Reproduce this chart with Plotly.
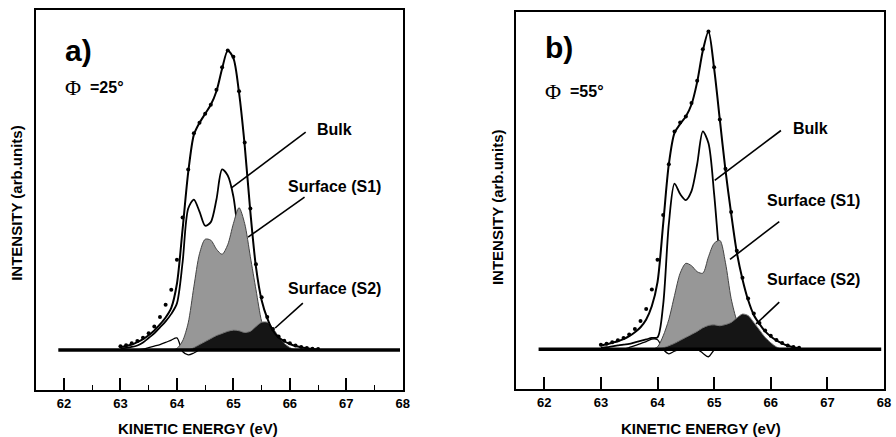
import plotly.graph_objects as go

# ---------------- data ----------------
energy = [63.0, 63.1, 63.2, 63.3, 63.4, 63.5, 63.6, 63.7, 63.8, 63.9,
          64.0, 64.1, 64.2, 64.3, 64.4, 64.5, 64.6, 64.7, 64.8, 64.9,
          65.0, 65.1, 65.2, 65.3, 65.4, 65.5, 65.6, 65.7, 65.8, 65.9,
          66.0, 66.1, 66.2, 66.3, 66.4, 66.5]

# panel a (phi = 25 deg)
a_data = [1.2, 1.6, 2.2, 3.0, 4.1, 5.6, 7.8, 11, 15, 20,
          30, 44, 60, 72, 75.5, 78.5, 81.5, 86.5, 94, 99.5,
          97.5, 86, 69, 47, 28.5, 17.5, 11, 7, 4.5, 3.1,
          2.2, 1.5, 1.0, 0.7, 0.45, 0.3]
a_fit = [1.0, 1.3, 1.8, 2.6, 3.6, 4.9, 6.5, 8.5, 10.8, 14,
         22, 40, 59, 71.5, 75.5, 78.5, 81.5, 86, 93.5, 99.5,
         97, 85.5, 68, 46, 27.5, 16.5, 10.5, 6.5, 4.2, 2.9,
         2.0, 1.3, 0.9, 0.6, 0.35, 0.2]
a_bulk = [0.5, 0.7, 1.0, 1.5, 2.5, 4, 5.5, 7.5, 9.5, 12,
          15.5, 29, 47, 50, 46, 41.3, 42.5, 50, 60, 58,
          51, 36, 22, 12, 6, 3, 1.5, 0.7, 0.3, 0,
          0, 0, 0, 0, 0, 0]
a_s1 = [0, 0, 0, 0, 0, 0, 0, 0, 0, 0,
        0.5, 3, 9, 21, 32, 36.8, 36.5, 33.5, 31.8, 35,
        42, 47.3, 42, 31, 20, 9.5, 4, 1.5, 0.5, 0,
        0, 0, 0, 0, 0, 0]
a_s2 = [0, 0, 0, 0, 0, 0, 0, 0, 0, 0,
        0, 0, 0, 0.8, 1.8, 2.8, 3.8, 4.8, 5.5, 6.2,
        6.6, 6.4, 5.8, 6.2, 7.8, 9.2, 9.2, 7.2, 4.5, 2.2,
        0.8, 0, 0, 0, 0, 0]
a_extra = [0, 0, 0, 0, 0.3, 0.8, 1.3, 1.8, 2.5, 3.3,
           4.0, -0.5, -1.6, -1.0, 0, 0, 0, 0, 0, 0,
           0, 0, 0, 0, 0, 0, 0, 0, 0, 0,
           0, 0, 0, 0, 0, 0]

# panel b (phi = 55 deg)
b_data = [1.5, 1.9, 2.4, 3.0, 3.8, 5.0, 6.8, 9.5, 13.5, 20,
          30, 45, 62, 73, 76, 78, 82.5, 90, 100.5, 106.5,
          94.5, 77, 60.5, 46, 33, 24, 17, 12, 8.8, 6.3,
          4.5, 3.1, 2.1, 1.3, 0.8, 0.5]
b_fit = [1.3, 1.7, 2.2, 2.7, 3.4, 4.4, 5.7, 7.4, 10, 14.5,
         22.5, 42, 62, 72.5, 75.5, 78, 82, 89.5, 100, 106.5,
         94, 77, 60, 45.5, 32.5, 23.5, 16.5, 11.5, 8.5, 6,
         4.3, 3, 2, 1.2, 0.7, 0.4]
b_bulk = [0.5, 0.7, 1.0, 1.3, 1.6, 1.8, 2.3, 2.8, 3.3, 3.8,
          4, 15, 42, 55.5, 52, 50, 53, 62, 73, 69,
          52, 30, 15, 7, 3.5, 1.8, 0.8, 0.3, 0, 0,
          0, 0, 0, 0, 0, 0]
b_s1 = [0, 0, 0, 0, 0, 0, 0, 0, 0, 0,
        0.8, 4.5, 10, 18, 25.5, 28.8, 28, 26, 25.5, 31,
        35.5, 36.5, 29, 17, 9.5, 4.5, 1.8, 0.6, 0, 0,
        0, 0, 0, 0, 0, 0]
b_s2 = [0, 0, 0, 0, 0, 0, 0, 0, 0, 0,
        0, 0.5, 1.2, 2, 3, 4, 5, 6, 7.2, 8,
        8.2, 7.9, 8.3, 9, 10.5, 11.8, 11.3, 9, 6.5, 4,
        2.2, 0.8, 0, 0, 0, 0]
b_extra = [0, 0, 0, 0, 0, 0.6, 1.2, 1.9, 2.6, 3.4,
           3.2, 0, -1.5, -0.6, 0, 0, 0, 0, -1.3, -2.5,
           -0.3, 0, 0, 0, 0, 0, 0, 0, 0, 0,
           0, 0, 0, 0, 0, 0]

baseline_x = [61.9, 67.95]
baseline_y = [0, 0]

x_ticks = [62, 63, 64, 65, 66, 67, 68]
x_minor = [62.5, 63.5, 64.5, 65.5, 66.5, 67.5]
x_range = [61.5, 68.0]
y_range = [-13.3, 113]

panels = [
    dict(name="a)", phi="=25°", data=a_data, fit=a_fit, bulk=a_bulk, s1=a_s1, s2=a_s2, extra=a_extra,
         label_y=99.7, phi_y=87.2,
         bulk_txt=(66.44, 73.4), s1_txt=(65.93, 54.5), s2_txt=(65.93, 20.3),
         bulk_ptr=(66.28, 72.4, 64.96, 53.8), s1_ptr=(66.26, 50.8, 65.26, 37.5),
         s2_ptr=(66.23, 15.6, 65.74, 7.3)),
    dict(name="b)", phi="=55°", data=b_data, fit=b_fit, bulk=b_bulk, s1=b_s1, s2=b_s2, extra=b_extra,
         label_y=101.0, phi_y=86.5,
         bulk_txt=(66.35, 74.1), s1_txt=(65.89, 50.0), s2_txt=(65.89, 23.4),
         bulk_ptr=(66.18, 73.3, 65.01, 56.6), s1_ptr=(66.15, 42.8, 65.28, 30.1),
         s2_ptr=(66.15, 15.8, 65.74, 8.5)),
]

FONT = "Liberation Sans"
fig = go.Figure()

for i, p in enumerate(panels):
    xa = "x" if i == 0 else "x2"
    ya = "y" if i == 0 else "y2"
    # bulk (white)
    fig.add_trace(go.Scatter(x=energy, y=p["bulk"], xaxis=xa, yaxis=ya, mode="lines",
                             line=dict(color="black", width=1.8, shape="spline", smoothing=0.8),
                             fill="tozeroy", fillcolor="white", hoverinfo="skip", showlegend=False))
    fig.add_trace(go.Scatter(x=energy, y=p["extra"], xaxis=xa, yaxis=ya, mode="lines",
                             line=dict(color="black", width=1.3, shape="spline", smoothing=0.8),
                             hoverinfo="skip", showlegend=False))
    # surface S1 (grey)
    fig.add_trace(go.Scatter(x=energy, y=p["s1"], xaxis=xa, yaxis=ya, mode="lines",
                             line=dict(color="#444444", width=1.0, shape="spline", smoothing=0.8),
                             fill="tozeroy", fillcolor="#979797", hoverinfo="skip", showlegend=False))
    # surface S2 (dark)
    fig.add_trace(go.Scatter(x=energy, y=p["s2"], xaxis=xa, yaxis=ya, mode="lines",
                             line=dict(color="#777777", width=1.0, shape="spline", smoothing=0.8),
                             fill="tozeroy", fillcolor="#151515", hoverinfo="skip", showlegend=False))
    # fit envelope
    fig.add_trace(go.Scatter(x=energy, y=p["fit"], xaxis=xa, yaxis=ya, mode="lines",
                             line=dict(color="black", width=2, shape="spline", smoothing=0.8),
                             hoverinfo="skip", showlegend=False))
    # data dots
    fig.add_trace(go.Scatter(x=energy, y=p["data"], xaxis=xa, yaxis=ya, mode="markers",
                             marker=dict(color="black", size=4), hoverinfo="skip", showlegend=False))
    # baseline
    fig.add_trace(go.Scatter(x=baseline_x, y=baseline_y, xaxis=xa, yaxis=ya, mode="lines",
                             line=dict(color="black", width=3.5), hoverinfo="skip", showlegend=False))

    # pointer lines
    for key in ("bulk_ptr", "s1_ptr", "s2_ptr"):
        x0, y0, x1, y1 = p[key]
        fig.add_shape(type="line", xref=xa, yref=ya, x0=x0, y0=y0, x1=x1, y1=y1,
                      line=dict(color="black", width=1.6))

    ann = [
        (p["bulk_txt"], "Bulk"),
        (p["s1_txt"], "Surface (S1)"),
        (p["s2_txt"], "Surface (S2)"),
    ]
    for (tx, ty), t in ann:
        fig.add_annotation(x=tx, y=ty, xref=xa, yref=ya, text=t, showarrow=False,
                           xanchor="left", yanchor="middle",
                           font=dict(family=FONT, size=16, color="black", weight="bold"))
    fig.add_annotation(x=61.98, y=p["label_y"], xref=xa, yref=ya, text=p["name"], showarrow=False,
                       xanchor="left", yanchor="middle",
                       font=dict(family=FONT, size=30, color="black", weight="bold"))
    fig.add_annotation(x=61.98, y=p["phi_y"], xref=xa, yref=ya, text="Φ", showarrow=False,
                       xanchor="left", yanchor="middle",
                       font=dict(family="Liberation Serif", size=22, color="black"))
    fig.add_annotation(x=62.42, y=p["phi_y"], xref=xa, yref=ya, text=p["phi"], showarrow=False,
                       xanchor="left", yanchor="middle",
                       font=dict(family=FONT, size=16, color="black", weight="bold"))

axis_common = dict(showline=True, mirror=True, linecolor="black", linewidth=2,
                   showgrid=False, zeroline=False)

fig.update_layout(
    width=896, height=437, autosize=False,
    margin=dict(l=0, r=0, t=0, b=0),
    paper_bgcolor="white", plot_bgcolor="white",
    xaxis=dict(domain=[36/896, 406/896], range=x_range, anchor="y",
               tickvals=x_ticks, ticks="inside", ticklen=12, tickwidth=1.6, tickcolor="black",
               tickfont=dict(family=FONT, size=13, color="black", weight="bold"),
               minor=dict(tickvals=x_minor, ticks="inside", ticklen=5, tickwidth=1.4, tickcolor="black",
                          showgrid=False),
               **axis_common),
    yaxis=dict(domain=[47/437, 427/437], range=y_range, anchor="x",
               showticklabels=False, ticks="", **axis_common),
    xaxis2=dict(domain=[520/896, 891/896], range=x_range, anchor="y2",
                tickvals=x_ticks, ticks="inside", ticklen=12, tickwidth=1.6, tickcolor="black",
                tickfont=dict(family=FONT, size=13, color="black", weight="bold"),
                **axis_common),
    yaxis2=dict(domain=[48/437, 425/437], range=y_range, anchor="x2",
                showticklabels=False, ticks="", **axis_common),
)

# axis titles
fig.add_annotation(x=200/896, y=(437-428)/437, xref="paper", yref="paper", text="KINETIC ENERGY (eV)",
                   showarrow=False, xanchor="center", yanchor="middle",
                   font=dict(family=FONT, size=15, color="black", weight="bold"))
fig.add_annotation(x=707/896, y=(437-428)/437, xref="paper", yref="paper", text="KINETIC ENERGY (eV)",
                   showarrow=False, xanchor="center", yanchor="middle",
                   font=dict(family=FONT, size=15, color="black", weight="bold"))
fig.add_annotation(x=17/896, y=(437-203)/437, xref="paper", yref="paper", text="INTENSITY (arb.units)",
                   showarrow=False, xanchor="center", yanchor="middle", textangle=-90,
                   font=dict(family=FONT, size=15, color="black", weight="bold"))
fig.add_annotation(x=501/896, y=(437-207)/437, xref="paper", yref="paper", text="INTENSITY (arb.units)",
                   showarrow=False, xanchor="center", yanchor="middle", textangle=-90,
                   font=dict(family=FONT, size=15, color="black", weight="bold"))

fig.write_html("out.html",
               config={"displayModeBar": False, "responsive": False},
               post_script=("document.body.style.margin='0';"
                            "var gd=document.getElementById('{plot_id}');"
                            "gd.style.position='fixed';gd.style.left='0px';gd.style.top='0px';"))
